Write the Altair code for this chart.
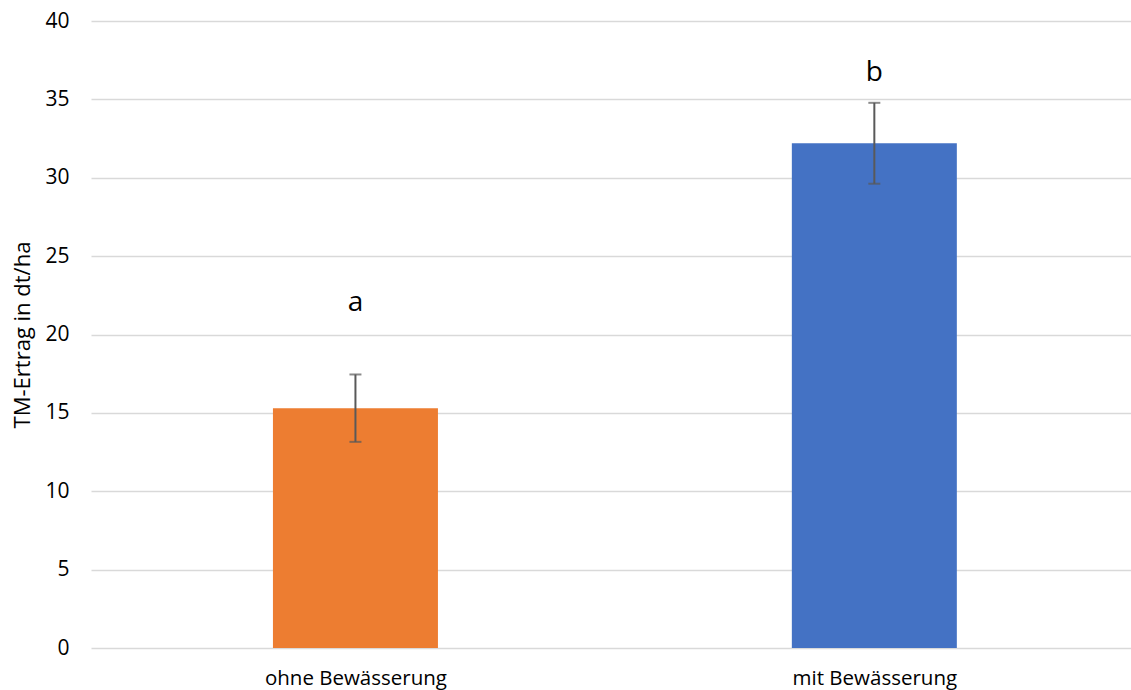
import altair as alt
import pandas as pd

# Dry-matter yield with and without irrigation
categories = ["ohne Bewässerung", "mit Bewässerung"]
yields = [15.3, 32.2]
errors = [2.15, 2.58]
colors = ["#ED7D31", "#4472C4"]
letters = ["a", "b"]
letter_heights = [22.0, 36.7]

df = pd.DataFrame({
    "i": list(range(len(categories))),
    "cat": categories,
    "val": yields,
    "lo": [v - e for v, e in zip(yields, errors)],
    "hi": [v + e for v, e in zip(yields, errors)],
    "color": colors,
    "letter": letters,
    "ly": letter_heights,
})

FONT = "Open Sans"

# category axis drawn on a continuous index scale; the plot runs past the right edge
label_expr = " : ".join(
    f"datum.value == {i} ? '{c}'" for i, c in enumerate(categories)
) + " : ''"
x_scale = alt.Scale(domain=[-0.5, 1.485], nice=False, zero=False)
x_axis = alt.Axis(
    title=None, values=list(range(len(categories))), labelExpr=label_expr,
    labelAngle=0, domain=False, ticks=False, grid=False,
    labelFontSize=20.5, labelFont=FONT, labelColor="#000000", labelPadding=20,
    labelFlush=False, labelOverlap=False, labelLimit=400,
)
x = alt.X("i:Q", scale=x_scale, axis=x_axis)
y_scale = alt.Scale(domain=[0, 40], nice=False)

bars = alt.Chart(df).mark_bar(size=165, orient="vertical").encode(
    x=x,
    y=alt.Y(
        "val:Q",
        scale=y_scale,
        axis=alt.Axis(
            title="TM-Ertrag in dt/ha", values=list(range(0, 45, 5)),
            domain=False, ticks=False, gridColor="#D9D9D9", gridWidth=1.5,
            labelFontSize=21, labelFont=FONT, labelColor="#000000",
            labelPadding=22, titleFontSize=22, titleFont=FONT,
            titleFontWeight="normal", titleColor="#000000", titlePadding=10,
        ),
    ),
    color=alt.Color("color:N", scale=None),
)

err = alt.Chart(df).mark_rule(color="#595959", strokeWidth=2).encode(
    x=alt.X("i:Q", scale=x_scale),
    y=alt.Y("lo:Q", scale=y_scale),
    y2="hi:Q",
)

cap_lo = alt.Chart(df).mark_tick(color="#595959", thickness=2, size=12, orient="horizontal").encode(
    x=alt.X("i:Q", scale=x_scale),
    y=alt.Y("lo:Q", scale=y_scale),
)
cap_hi = alt.Chart(df).mark_tick(color="#595959", thickness=2, size=12, orient="horizontal").encode(
    x=alt.X("i:Q", scale=x_scale),
    y=alt.Y("hi:Q", scale=y_scale),
)

text = alt.Chart(df).mark_text(fontSize=28, font=FONT, color="#000000", baseline="middle").encode(
    x=alt.X("i:Q", scale=x_scale),
    y=alt.Y("ly:Q", scale=y_scale),
    text="letter:N",
)

chart = (
    alt.layer(bars, err, cap_lo, cap_hi, text)
    .properties(
        width=1040, height=627,
        autosize=alt.AutoSizeParams(type="none"),
        padding={"left": 91, "top": 21, "right": 0, "bottom": 42},
        background="#FFFFFF",
    )
    .configure_view(stroke=None)
)

chart.save("out.html", embed_options={"renderer": "svg", "actions": False})
